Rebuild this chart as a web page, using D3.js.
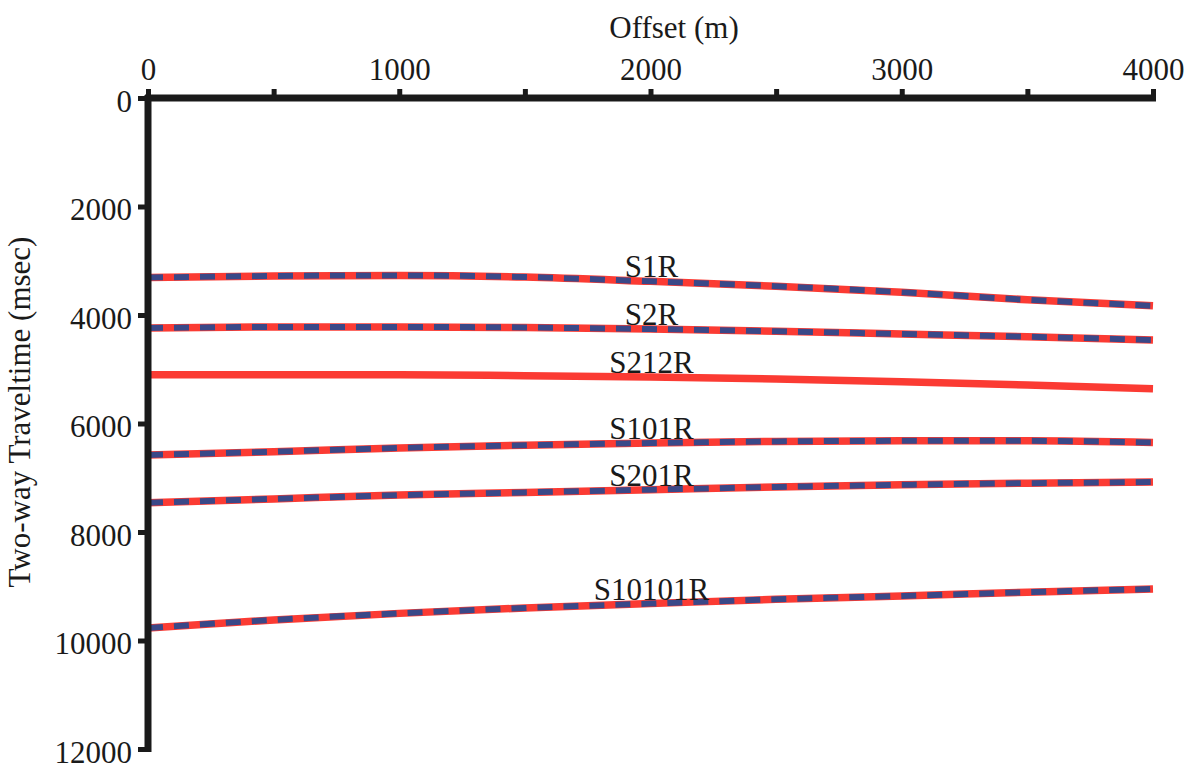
<!DOCTYPE html>
<html>
<head>
<meta charset="utf-8">
<script src="https://cdn.jsdelivr.net/npm/d3@7"></script>
<style>
  html, body { margin: 0; padding: 0; background: #fff; }
  svg { display: block; }
</style>
</head>
<body>
<svg id="chart" width="1196" height="771"></svg>
<script>
// ---- data ----
const offsets = [0, 500, 1000, 1500, 2000, 2500, 3000, 3500, 4000];
const S1R     = [3310, 3280, 3270, 3300, 3380, 3470, 3580, 3720, 3830];
const S2R     = [4240, 4220, 4220, 4230, 4260, 4300, 4350, 4400, 4460];
const S212R   = [5100, 5100, 5100, 5120, 5145, 5180, 5230, 5290, 5360];
const S101R   = [6580, 6520, 6450, 6400, 6360, 6330, 6320, 6320, 6350];
const S201R   = [7460, 7390, 7320, 7270, 7220, 7170, 7130, 7100, 7080];
const S10101R = [9770, 9620, 9500, 9400, 9320, 9240, 9180, 9110, 9050];
const seriesNames = ["S1R", "S2R", "S212R", "S101R", "S201R", "S10101R"];
const seriesValues = [S1R, S2R, S212R, S101R, S201R, S10101R];
const dashedOverlay = [true, true, false, true, true, true];
const xTicks = [0, 500, 1000, 1500, 2000, 2500, 3000, 3500, 4000];
const xTickLabels = ["0", "", "1000", "", "2000", "", "3000", "", "4000"];
const yTicks = [0, 2000, 4000, 6000, 8000, 10000, 12000];
const labelAt = 2000;

// ---- layout ----
const FONT = '"Liberation Serif", "Times New Roman", serif';
const svg = d3.select("#chart");
const x = d3.scaleLinear().domain([0, 4000]).range([148, 1153]);
const y = d3.scaleLinear().domain([0, 12000]).range([98, 749]);
const axisColor = "#1a1a1a";

// series lines
const line = d3.line()
  .x((d, i) => x(offsets[i]))
  .y(d => y(d))
  .curve(d3.curveMonotoneX);

const g = svg.append("g");
seriesValues.forEach((vals, k) => {
  g.append("path")
    .attr("d", line(vals))
    .attr("fill", "none")
    .attr("stroke", "#fb3b33")
    .attr("stroke-width", 7.5);
  if (dashedOverlay[k]) {
    g.append("path")
      .attr("d", line(vals))
      .attr("fill", "none")
      .attr("stroke", "#3a4888")
      .attr("stroke-width", 6)
      .attr("stroke-dasharray", "15,11");
  }
  const vi = offsets.indexOf(labelAt);
  g.append("text")
    .attr("x", x(labelAt) + 1)
    .attr("y", y(vals[vi]) - 4)
    .attr("text-anchor", "middle")
    .style("font-family", FONT)
    .style("font-size", "31px")
    .style("fill", axisColor)
    .text(seriesNames[k]);
});

// x axis (top)
const xAxis = d3.axisTop(x)
  .tickValues(xTicks)
  .tickFormat((d, i) => xTickLabels[i])
  .tickSizeInner(9)
  .tickSizeOuter(0)
  .tickPadding(9);
const gx = svg.append("g").attr("transform", `translate(0,${y(0)})`).call(xAxis);
gx.attr("font-family", null).attr("font-size", null);
gx.select(".domain").attr("stroke", axisColor).attr("stroke-width", 7)
  .attr("d", `M${x(0) - 3},0H${x(4000) + 3}`);
gx.selectAll(".tick line").attr("stroke", axisColor).attr("stroke-width", 5);
gx.selectAll(".tick text").style("font-family", FONT).style("font-size", "31px").style("fill", axisColor);

// y axis (left)
const yAxis = d3.axisLeft(y)
  .tickValues(yTicks)
  .tickFormat(d3.format("d"))
  .tickSizeInner(10)
  .tickSizeOuter(0)
  .tickPadding(6);
const gy = svg.append("g").attr("transform", `translate(${x(0)},0)`).call(yAxis);
gy.attr("font-family", null).attr("font-size", null);
gy.select(".domain").attr("stroke", axisColor).attr("stroke-width", 7)
  .attr("d", `M0,${y(0) - 3}V${y(12000) + 3}`);
gy.selectAll(".tick line").attr("stroke", axisColor).attr("stroke-width", 5);
gy.selectAll(".tick text").style("font-family", FONT).style("font-size", "31px")
  .style("fill", axisColor).attr("dy", "0.42em");

// titles
svg.append("text")
  .attr("x", 674).attr("y", 38)
  .attr("text-anchor", "middle")
  .style("font-family", FONT).style("font-size", "31px").style("fill", axisColor)
  .text("Offset (m)");

svg.append("text")
  .attr("transform", "translate(30,412) rotate(-90)")
  .attr("text-anchor", "middle")
  .style("font-family", FONT).style("font-size", "31px").style("fill", axisColor)
  .text("Two-way Traveltime (msec)");
</script>
</body>
</html>
